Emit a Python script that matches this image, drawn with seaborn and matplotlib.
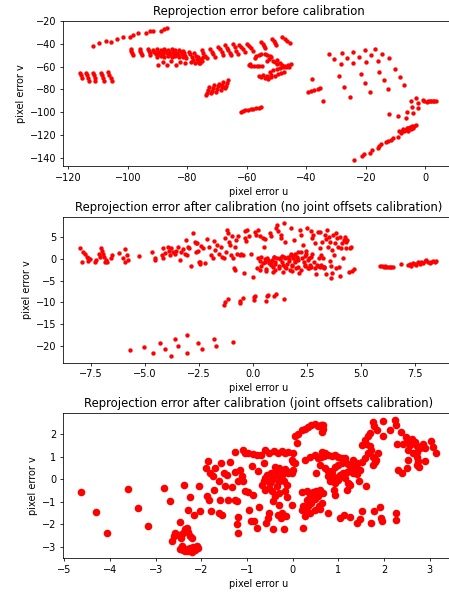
import matplotlib
matplotlib.use("Agg")
import matplotlib.pyplot as plt
import pandas as pd
import seaborn as sns

# ---------------- data: before calibration ----------------
before_left_block = [
    (-116.1, -65.5), (-115.8, -67.7), (-115.5, -69.8),
    (-114.0, -65.5), (-113.8, -67.8), (-113.5, -70.0), (-113.2, -72.3),
    (-111.8, -65.5), (-111.5, -67.8), (-111.2, -70.0), (-110.9, -72.3),
    (-109.0, -65.5), (-108.7, -67.8), (-108.4, -70.0), (-108.1, -72.3),
    (-106.6, -65.0), (-106.2, -67.5), (-105.8, -70.0), (-105.4, -72.5)]
before_arc = [
    (-111.7, -42.1), (-109.6, -39.2), (-107.3, -37.4), (-105.5, -38.6), (-103.7, -36.3),
    (-101.8, -34.0), (-99.3, -34.5), (-98.4, -32.8), (-96.6, -31.0), (-94.0, -31.0),
    (-92.6, -29.3), (-91.5, -28.7), (-88.8, -29.3), (-87.9, -27.5), (-86.8, -26.4)]
before_band = [
    (-99.0, -44.7), (-98.8, -46.5), (-98.5, -48.2), (-98.3, -50.0),
    (-96.0, -44.7), (-95.8, -46.5), (-95.5, -48.2), (-95.3, -50.0),
    (-93.2, -44.5), (-93.0, -46.3), (-92.7, -48.0), (-92.4, -49.8),
    (-91.5, -45.5), (-91.1, -47.5), (-90.7, -49.5), (-90.3, -51.5),
    (-90.2, -45.0), (-89.8, -47.0), (-89.4, -49.0), (-89.0, -51.0),
    (-89.0, -45.5), (-88.6, -47.5), (-88.2, -49.5), (-87.8, -51.5),
    (-87.8, -44.5), (-87.4, -46.5), (-87.0, -48.5), (-86.6, -50.5),
    (-86.5, -45.5), (-86.1, -47.5), (-85.7, -49.5), (-85.3, -51.5),
    (-85.2, -45.0), (-84.8, -47.0), (-84.4, -49.0), (-84.0, -51.0),
    (-84.0, -46.0), (-83.6, -48.0), (-83.2, -50.0), (-82.8, -52.0),
    (-82.7, -45.5), (-82.3, -47.5), (-81.9, -49.5), (-81.5, -51.5),
    (-81.5, -46.5), (-81.1, -48.5), (-80.7, -50.5), (-80.3, -52.5),
    (-89.9, -58.6), (-88.1, -55.7), (-87.0, -58.6), (-85.5, -55.1), (-83.9, -58.6),
    (-82.5, -55.7), (-80.8, -57.2),
    (-79.5, -47.0), (-79.0, -49.5), (-78.5, -52.0), (-78.0, -54.5), (-77.5, -56.5),
    (-77.8, -48.0), (-77.2, -50.5), (-76.8, -53.0), (-76.3, -55.0), (-75.8, -57.0),
    (-76.5, -51.5), (-75.5, -53.5), (-75.0, -55.5), (-74.8, -52.0), (-78.8, -56.0), (-76.0, -56.5),
    (-75.2, -45.5), (-74.6, -48.0), (-74.1, -50.4), (-73.5, -52.8),
    (-72.4, -45.0), (-71.8, -47.1), (-71.3, -49.3), (-70.7, -51.4),
    (-69.6, -42.6), (-69.0, -45.0), (-68.5, -47.5), (-67.9, -49.9),
    (-67.2, -41.2), (-66.7, -43.4), (-66.2, -45.6), (-65.7, -47.8), (-65.2, -49.9),
    (-64.6, -40.3), (-64.0, -43.2), (-63.5, -46.1), (-62.9, -49.0),
    (-62.7, -41.2), (-62.0, -43.1), (-61.4, -45.1), (-60.7, -47.0),
    (-60.1, -40.3), (-59.4, -42.2), (-58.6, -44.2), (-57.9, -46.1),
    (-55.1, -38.3), (-54.7, -40.2), (-54.2, -42.2), (-53.8, -44.1),
    (-51.5, -36.2), (-51.0, -37.9), (-50.6, -39.5), (-50.1, -41.2),
    (-48.2, -34.5), (-47.3, -36.2), (-46.5, -38.0), (-45.6, -39.7)]
before_mid_cluster = [
    (-57.4, -52.8), (-56.8, -50.8), (-56.0, -49.6), (-55.1, -49.3), (-54.0, -49.0),
    (-53.1, -49.6), (-52.3, -50.8), (-51.8, -51.9),
    (-59.4, -58.6), (-58.5, -59.2), (-57.6, -59.5), (-56.7, -59.5), (-55.8, -59.5),
    (-54.9, -59.8), (-59.0, -57.5),
    (-51.2, -54.9), (-50.5, -56.0), (-49.8, -57.8), (-49.0, -56.5), (-48.2, -58.6),
    (-47.2, -59.5), (-46.2, -58.6), (-45.1, -58.0), (-52.5, -53.5), (-53.2, -55.0),
    (-50.0, -54.0), (-46.8, -60.5), (-45.8, -60.0),
    (-50.0, -62.0), (-48.8, -61.0), (-47.7, -60.0), (-51.2, -63.3), (-52.3, -64.5),
    (-56.0, -68.2), (-55.1, -69.4), (-54.0, -70.2), (-52.9, -70.5), (-51.8, -69.4),
    (-50.6, -68.2), (-49.5, -66.5), (-48.4, -65.3), (-47.5, -64.4), (-54.5, -67.5),
    (-53.3, -68.0), (-52.0, -67.0)]
before_strokes = [
    (-73.6, -85.0), (-73.3, -82.7), (-73.0, -80.3), (-72.7, -78.0),
    (-72.0, -83.5), (-71.7, -81.2), (-71.4, -78.8), (-71.1, -76.5),
    (-70.4, -82.0), (-70.1, -79.7), (-69.8, -77.3), (-69.5, -75.0),
    (-68.8, -80.5), (-68.5, -78.2), (-68.2, -75.8), (-67.9, -73.5),
    (-67.2, -79.0), (-66.9, -76.7), (-66.6, -74.3), (-66.3, -72.0)]
before_low_line = [
    (-62.0, -99.3), (-61.3, -98.4), (-60.5, -98.1), (-59.6, -97.6), (-58.7, -97.3),
    (-57.8, -96.7), (-56.9, -96.4), (-56.0, -95.8), (-55.1, -95.5)]
before_right = [
    (-39.5, -82.4), (-38.4, -81.3), (-37.3, -80.4), (-36.2, -79.8), (-35.4, -79.0),
    (-38.1, -71.3), (-34.4, -90.5),
    (-32.5, -49.3), (-30.6, -53.4), (-28.5, -57.8), (-29.1, -68.2), (-27.5, -77.5),
    (-25.5, -86.2), (-28.1, -47.9), (-26.2, -52.2), (-24.4, -47.0), (-24.2, -56.6),
    (-22.2, -51.4), (-21.6, -66.5), (-20.2, -74.6), (-18.6, -81.9), (-20.4, -45.8),
    (-19.9, -55.7), (-18.3, -49.9), (-16.8, -45.0), (-16.0, -54.8), (-15.5, -64.4),
    (-14.6, -49.0), (-14.0, -71.7), (-12.4, -52.2), (-12.6, -79.5), (-10.1, -62.4),
    (-8.6, -68.8), (-7.3, -76.1),
    (-12.1, -101.6), (-9.3, -102.8), (-6.6, -104.5), (-6.3, -99.3), (-4.9, -90.0),
    (-4.5, -95.5), (-4.3, -100.8), (-3.2, -87.1), (-2.5, -92.0), (-2.5, -96.4),
    (-0.75, -89.1),
    (-0.4, -90.0), (0.4, -90.6), (1.0, -90.5), (1.5, -90.5), (2.0, -90.3),
    (2.5, -90.3), (3.0, -90.3), (3.5, -90.5)]
before_diag = [
    (-8.8, -116.7), (-7.9, -115.9), (-7.4, -114.7), (-6.8, -115.3), (-6.3, -113.8),
    (-5.7, -113.8), (-5.2, -112.4), (-4.5, -111.8), (-3.8, -111.8), (-3.0, -110.9),
    (-7.1, -116.7), (-6.0, -115.9), (-4.9, -114.7), (-8.2, -117.6), (-4.1, -113.8),
    (-23.9, -141.4), (-21.3, -138.5), (-20.8, -136.5), (-18.6, -135.1), (-17.9, -132.7),
    (-16.0, -130.7), (-15.5, -129.2), (-14.9, -127.8), (-13.2, -126.3), (-12.7, -124.9),
    (-11.6, -124.0), (-11.0, -122.6), (-9.3, -121.1)]

# ---------------- data: after calibration (no joint offsets) ----------------
nojoint_left = [
    (-8.02, 2.46), (-7.92, -0.61), (-7.86, 1.54), (-7.77, 1.08), (-7.71, 0.54),
    (-7.66, 0.16), (-7.62, -0.45), (-7.55, -0.07), (-7.34, -0.61), (-7.28, -0.22),
    (-7.15, 1.08), (-7.09, 0.54), (-7.03, 2.46), (-7.00, 1.85), (-6.94, 1.08),
    (-6.89, 0.54), (-6.84, -0.61), (-6.81, -0.22), (-6.78, -0.76), (-6.58, 0.31),
    (-6.54, 0.93), (-6.23, 1.31), (-6.01, 0.16), (-5.95, 2.31), (-5.92, -0.61),
    (-5.86, 0.93), (-5.79, -0.22), (-5.27, 0.77), (-4.68, 1.54), (-4.56, 0.31),
    (-4.53, -0.22), (-4.22, 0.93), (-4.19, 2.46), (-4.16, 0.31), (-4.07, 1.31),
    (-3.94, 2.84), (-3.91, 1.85), (-3.85, 0.93), (-3.79, 2.46), (-3.70, 1.54),
    (-3.63, 1.08), (-3.57, 1.85), (-3.48, 2.77), (-3.39, -0.22), (-3.33, 1.54),
    (-3.26, 2.31), (-3.17, 1.08), (-3.11, 4.30), (-3.05, 0.93), (-3.02, 2.84),
    (-2.96, 2.46), (-2.86, -1.53), (-2.77, 5.91), (-2.71, 3.84), (-2.65, 1.54),
    (-2.58, 3.69), (-2.52, -0.76), (-2.46, -1.22)]
nojoint_center = [
    (-2.63, 3.61), (-2.55, 1.85), (-2.48, -0.61), (-2.40, 3.07), (-2.32, 2.46),
    (-2.24, -0.99), (-2.12, 4.61), (-2.06, 2.84), (-1.97, 0.93), (-1.86, 0.16),
    (-1.81, 4.15), (-1.75, 2.08), (-1.66, 3.23), (-1.60, 1.08), (-1.50, 2.84),
    (-1.44, 0.54), (-1.35, 0.16), (-1.29, 4.92), (-1.24, 1.54), (-1.20, 6.68),
    (-1.17, 5.91), (-1.13, 3.99), (-1.09, 3.23), (-1.01, 0.93), (-0.98, 5.38),
    (-0.93, 0.16), (-0.89, -1.99), (-0.86, -2.52), (-0.82, 2.84), (-0.78, 4.38),
    (-0.73, 1.08), (-0.70, 5.38), (-0.62, 0.93), (-0.55, 1.08), (-0.47, 0.93),
    (-0.42, -3.29), (-0.39, 6.45), (-0.36, 4.76), (-0.32, 4.15), (-0.27, 6.68),
    (-0.21, 5.38), (-0.11, 1.08), (-0.01, -4.06), (0.07, 6.30), (0.15, 5.53),
    (0.19, -1.99), (0.22, 6.68), (0.25, 0.16), (0.30, 5.38), (0.35, -1.53),
    (0.38, 0.54), (0.46, 4.92), (0.50, 2.84), (0.53, -0.61), (0.56, 4.61),
    (0.61, -2.29), (0.66, 0.31), (0.72, -0.99), (0.76, 5.91), (0.81, 5.38),
    (0.84, -1.37), (0.87, -0.22), (0.92, -2.91), (0.96, 0.54), (1.03, -0.61),
    (1.07, 7.22), (1.12, 7.83), (1.15, 6.45), (1.18, -1.99), (1.23, 0.16),
    (1.27, 5.53), (1.30, 4.76), (1.34, -0.61), (1.38, -1.37), (1.43, 8.21),
    (1.46, 3.99), (1.49, 0.31), (1.54, -2.14), (1.58, -1.22), (1.61, 0.54),
    (1.64, -0.45), (1.69, -2.52), (1.74, 0.93), (1.77, 7.06), (1.80, -1.37),
    (1.84, 0.16), (1.89, 4.38), (1.92, -0.76), (1.95, 1.08), (2.00, -2.14),
    (2.05, 0.31), (2.08, -0.22), (2.11, -3.29), (2.15, 6.68), (2.20, 5.53),
    (2.23, 1.54), (2.26, 0.31), (2.31, 3.23), (2.35, -0.61), (2.38, -1.37),
    (2.42, 0.77), (2.46, 1.85), (2.51, 7.06), (2.54, -2.14), (2.57, 0.16),
    (2.62, -1.37), (2.66, 6.45), (2.69, 0.54), (2.72, 4.76), (2.77, 5.53),
    (2.82, -0.61), (2.85, -2.14), (2.88, 3.61), (2.92, -3.52), (2.97, -1.37),
    (3.00, 6.14), (3.03, 0.16), (3.08, 2.46), (3.13, -1.37), (3.16, 0.93),
    (3.23, -1.76), (3.28, -2.14),
    (0.30, -0.40), (0.55, 0.00), (0.70, -0.20), (0.95, 0.40), (1.10, 0.20),
    (1.35, 0.80), (1.45, 0.40), (1.75, 1.20), (1.85, 0.70), (2.10, 1.60),
    (0.45, -1.00), (0.85, -0.70), (1.25, -0.10), (1.65, 0.00), (2.05, 0.50),
    (2.45, 1.20), (2.75, 1.10), (1.00, -1.20), (1.95, -0.40), (2.55, -0.30),
    (1.2, -1.6), (1.5, -1.8), (1.8, -1.7), (2.1, -1.9), (2.4, -1.7), (2.7, -1.8),
    (3.0, -1.6), (3.3, -1.9), (3.6, -1.7), (0.9, -1.9), (2.6, -2.0), (3.1, -1.9),
    (0.3, -2.6), (0.6, -2.8), (1.0, -2.6), (1.4, -2.9), (1.8, -2.7), (2.2, -2.5)]
nojoint_right = [
    (3.11, 6.14), (3.20, 3.99), (3.23, 0.16), (3.26, -1.76), (3.31, 5.53),
    (3.36, 4.61), (3.39, -3.52), (3.42, 6.68), (3.46, 2.84), (3.51, 5.15),
    (3.54, 3.84), (3.57, -0.45), (3.60, -4.29), (3.63, 2.08), (3.66, -3.29),
    (3.70, 5.53), (3.73, 0.93), (3.77, 3.61), (3.82, -2.14), (3.85, 5.91),
    (3.88, 4.76), (3.93, 2.84), (3.97, -1.91), (4.01, -3.83), (4.04, 5.15),
    (4.08, 2.46), (4.13, 3.61), (4.16, 0.31), (4.19, 4.38), (4.24, 5.15),
    (4.28, 2.46), (4.31, 3.99), (4.34, 4.38), (4.44, -2.91), (4.50, 2.46),
    (4.54, 2.84), (4.56, -2.75), (4.65, -2.37),
    (5.89, -1.60), (5.98, -1.68), (6.04, -1.76), (6.10, -1.68), (6.17, -1.76),
    (6.24, -1.83), (6.32, -1.76), (6.40, -1.83), (6.47, -1.91), (6.86, -1.22),
    (7.17, -1.37), (7.25, -1.22), (7.32, -1.53), (7.40, -0.99), (7.48, -1.22),
    (7.55, -1.37), (7.63, -0.76), (7.71, -1.07), (7.79, -0.61), (7.86, -0.99),
    (7.94, -0.38), (8.02, -0.22), (8.09, -0.61), (8.17, -0.99), (8.25, -0.76),
    (8.33, -0.45), (8.40, -0.61), (8.48, -0.38)]
nojoint_low = [
    (-1.35, -10.57), (-1.32, -9.96), (-1.16, -9.19), (-0.62, -10.19), (-0.59, -9.66),
    (-0.47, -8.89), (0.02, -9.43), (0.04, -8.73), (0.10, -8.50), (0.58, -9.66),
    (0.63, -8.50), (0.69, -8.27), (0.97, -8.43), (1.04, -7.97), (1.43, -9.27),
    (-5.70, -20.93), (-5.04, -20.31), (-4.65, -21.70), (-4.30, -19.24), (-4.07, -20.78),
    (-3.80, -22.31), (-3.60, -18.47), (-3.48, -20.08), (-3.08, -17.48), (-3.08, -21.54),
    (-2.57, -19.24), (-2.37, -20.78), (-1.81, -18.40), (-1.70, -19.93), (-0.93, -19.16)]

# ---------------- data: after calibration (joint offsets) ----------------
joint_left = [
    (-4.64, -0.57), (-4.30, -1.46), (-4.07, -2.40), (-3.60, -0.43), (-3.39, -1.26),
    (-3.16, -2.08), (-2.81, -0.40), (-2.69, -0.95), (-2.47, -1.90), (-2.39, -0.28),
    (-2.25, -0.79), (-2.29, -1.38), (-2.16, -1.57), (-2.06, -0.31), (-2.03, -1.42),
    (-2.65, -2.74), (-2.61, -2.52), (-2.58, -2.40), (-2.50, -2.49), (-2.45, -2.59),
    (-2.41, -2.37), (-2.36, -2.22), (-2.32, -2.15), (-2.29, -2.34), (-2.25, -2.52),
    (-2.21, -2.59), (-2.47, -3.10), (-2.40, -3.13), (-2.32, -3.10), (-2.25, -3.07),
    (-2.18, -3.03), (-2.10, -2.98), (-2.43, -2.98), (-2.36, -3.17), (-2.29, -3.20),
    (-2.21, -3.22), (-2.14, -3.13), (-2.07, -3.07)]
joint_center = [
    (-1.86, 0.82), (-1.90, 0.48), (-1.81, 0.26), (-1.73, -0.47), (-1.88, -0.76),
    (-1.83, -0.94), (-1.78, -1.42), (-1.70, 0.48), (-1.75, 0.14), (-1.61, -0.06),
    (-1.59, -0.91), (-1.57, 0.73), (-1.51, 0.29), (-1.61, -1.52), (-1.54, -1.57),
    (-1.44, 0.19), (-1.41, -0.91), (-1.37, 0.77), (-1.33, -0.35), (-1.48, -0.29),
    (-1.27, -0.91), (-1.22, -0.98), (-1.26, 0.33), (-1.20, -0.06), (-1.15, 0.41),
    (-1.11, 0.12), (-1.19, -1.67), (-1.22, -2.00), (-1.20, -2.37), (-1.08, -0.10),
    (-1.26, 1.21), (-1.08, 1.31), (-1.04, 1.17), (-0.97, 1.14), (-0.88, 1.11),
    (-0.79, 1.09), (-0.69, 1.07), (-0.61, 1.31), (-0.52, 1.14), (-0.42, 1.26),
    (-0.33, 1.17), (-0.24, 1.26), (-0.17, 1.14), (-0.10, 1.21), (0.01, 1.14),
    (0.09, 1.61), (-0.90, 0.58), (-0.77, 0.38), (-0.64, 0.70), (-1.04, -0.54),
    (-0.97, -0.59), (-0.86, -0.69), (-0.95, -1.35), (-0.91, -1.86), (-0.84, -1.86),
    (-0.79, -2.18), (-0.74, -1.23), (-0.55, -1.71), (-0.53, -1.52), (-0.59, -1.96),
    (-0.44, -2.19), (-0.33, -1.57), (-0.31, -1.13), (-0.26, -1.71), (-0.23, -1.52),
    (-0.20, -2.19), (-0.15, -1.64), (-0.02, -1.13),
    (-0.68, -0.25), (-0.64, -0.10), (-0.60, 0.04), (-0.57, 0.19), (-0.53, -0.40),
    (-0.50, -0.18), (-0.46, -0.03), (-0.42, 0.12), (-0.39, 0.29), (-0.35, -0.32),
    (-0.31, -0.10), (-0.28, 0.04), (-0.24, 0.19), (-0.60, -0.47), (-0.46, -0.54),
    (-0.31, -0.62), (-0.39, 0.52), (-0.31, 0.48), (-0.23, 0.38), (-0.17, 0.44),
    (-0.11, 0.26), (-0.06, 0.33), (-0.01, 0.29), (-0.20, -0.10), (-0.13, -0.25),
    (-0.18, -0.54), (-0.13, -0.79), (-0.39, -0.76), (-0.44, -0.98), (-0.47, 0.26),
    (-0.02, 0.85), (0.05, 0.70), (0.00, 0.77), (0.01, 0.41)]
joint_right = [
    (0.20, 2.16), (0.27, 2.24), (0.34, 2.31), (0.41, 2.38), (0.49, 2.45),
    (0.56, 2.34), (0.62, 2.38), (0.67, 2.42), (0.12, 2.02), (0.05, 1.90),
    (0.63, 2.38), (0.67, 2.24), (0.65, 2.09),
    (0.27, 0.85), (0.38, 0.99), (0.49, 1.07), (0.56, 0.92), (0.62, 0.99), (0.69, 1.02),
    (0.52, 0.29),
    (0.20, -1.35), (0.27, -1.42), (0.34, -1.20), (0.41, -1.05), (0.49, -0.88),
    (0.56, -0.76), (0.31, -0.91), (0.38, -0.73), (0.45, -0.59), (0.52, -0.54),
    (0.60, -0.47), (0.67, -0.62), (0.27, -1.64), (0.23, -1.20), (0.31, -0.54),
    (0.63, -1.05), (0.20, -0.59), (0.38, -1.49), (0.49, -1.35), (0.57, -1.20),
    (0.23, -2.15),
    (0.63, 1.21), (0.71, 1.14), (0.78, 1.07), (0.85, 1.02), (0.92, 1.07),
    (1.00, 0.99), (1.07, 0.96), (1.14, 0.92), (0.60, 0.63), (0.71, 0.48),
    (0.78, 0.38), (0.85, 0.34), (0.92, 0.52), (1.00, 0.63), (1.07, 0.70),
    (1.14, 0.77), (1.21, 0.67), (1.29, 0.55), (1.36, 0.48), (1.43, 0.44),
    (0.89, 0.14), (0.96, 0.04), (1.03, 0.19), (1.11, 0.26), (1.18, 0.33),
    (1.25, 0.41), (1.32, 0.29), (1.40, 0.23), (1.47, 0.41), (0.78, 0.12),
    (0.81, -0.10), (0.92, -0.18), (1.00, -0.03), (1.07, 0.12), (1.14, 0.04),
    (1.21, -0.18), (1.25, -0.25), (1.51, 0.77), (1.32, 0.85), (1.40, 0.70),
    (1.77, 2.34), (1.76, 2.53), (1.98, 2.57), (2.23, 2.63), (2.27, 2.38),
    (2.12, 2.16), (2.38, 2.09), (1.98, 1.90), (1.85, 2.16), (1.69, 2.05),
    (1.65, 1.90), (1.58, 1.75), (1.61, 1.58), (1.69, 1.46), (1.51, 1.50),
    (1.58, 0.92), (1.65, 1.14), (1.72, 1.29), (1.76, 0.99), (1.80, 0.77),
    (1.83, 0.85), (1.87, 1.14), (1.76, 0.63), (2.42, 1.58), (2.47, 1.87),
    (2.50, 1.69), (2.56, 1.50), (2.52, 1.29), (2.60, 1.80), (2.67, 1.65),
    (2.71, 1.46), (2.72, 1.21), (2.78, 1.36), (2.85, 1.58), (2.63, 1.14),
    (2.71, 0.99), (2.74, 0.82), (2.77, 0.55), (2.71, 0.63), (2.89, 1.36),
    (3.03, 1.69), (3.07, 1.43), (3.14, 1.17), (2.89, 0.82), (2.52, 0.85),
    (2.50, 0.48), (2.40, 0.29), (2.31, 0.41), (2.28, 1.58),
    (0.60, -1.32), (0.78, -1.49), (1.03, -1.71), (1.12, -1.61), (1.25, -1.67),
    (1.40, -1.96), (1.47, -1.76), (1.51, -1.42), (1.72, -1.96), (1.77, -1.42),
    (1.92, -1.23), (1.94, -1.71), (1.96, -1.86), (2.25, -1.52), (2.27, -1.82),
    (0.90, -0.47), (0.92, -0.69), (1.18, -0.50), (1.24, -0.21), (1.45, -0.06),
    (1.61, -0.29)]

titles = ["Reprojection error before calibration",
          "Reprojection error after calibration (no joint offsets calibration)",
          "Reprojection error after calibration (joint offsets calibration)"]
x_label = "pixel error u"
y_label = "pixel error v"


def frame(*groups):
    pts = [p for g in groups for p in g]
    return pd.DataFrame(pts, columns=["u", "v"])


df_before = frame(before_left_block, before_arc, before_band, before_mid_cluster,
                  before_strokes, before_low_line, before_right, before_diag)
df_nojoint = frame(nojoint_left, nojoint_center, nojoint_right, nojoint_low)
df_joint = frame(joint_left, joint_center, joint_right)

plt.rcParams.update({
    "font.family": "DejaVu Sans", "font.size": 7,
    "axes.linewidth": 0.56, "axes.titlesize": 8.4, "axes.titlepad": 4.2,
    "axes.labelsize": 7, "axes.labelpad": 2.8,
    "xtick.labelsize": 7, "ytick.labelsize": 7,
    "xtick.major.size": 2.45, "ytick.major.size": 2.45,
    "xtick.major.width": 0.56, "ytick.major.width": 0.56,
    "xtick.major.pad": 2.45, "ytick.major.pad": 2.45,
})

fig = plt.figure(figsize=(4.49, 5.93), dpi=100)
ax1 = fig.add_axes([0.1403, 0.7201, 0.8708, 0.2450])
ax2 = fig.add_axes([0.1403, 0.3884, 0.8708, 0.2462])
ax3 = fig.add_axes([0.1403, 0.0585, 0.8708, 0.2445])

specs = [
    (ax1, df_before, 10, (-121.8, 9.6), (-146.8, -20.0),
     [-120, -100, -80, -60, -40, -20, 0], [-140, -120, -100, -80, -60, -40, -20]),
    (ax2, df_nojoint, 10, (-8.8, 9.3), (-23.85, 9.74),
     [-7.5, -5.0, -2.5, 0.0, 2.5, 5.0, 7.5], [-20, -15, -10, -5, 0, 5]),
    (ax3, df_joint, 30, (-5.03, 3.53), (-3.51, 2.92),
     [-5, -4, -3, -2, -1, 0, 1, 2, 3], [-3, -2, -1, 0, 1, 2]),
]
for (ax, df, size, xl, yl, xt, yt), title in zip(specs, titles):
    sns.scatterplot(data=df, x="u", y="v", ax=ax, color="#ff0000", s=size,
                    linewidth=0, legend=False)
    ax.set_xlim(*xl)
    ax.set_ylim(*yl)
    ax.set_xticks(xt)
    ax.set_yticks(yt)
    ax.set_title(title)
    ax.set_xlabel(x_label)
    ax.set_ylabel(y_label)

fig.savefig("out.png", dpi=100)
